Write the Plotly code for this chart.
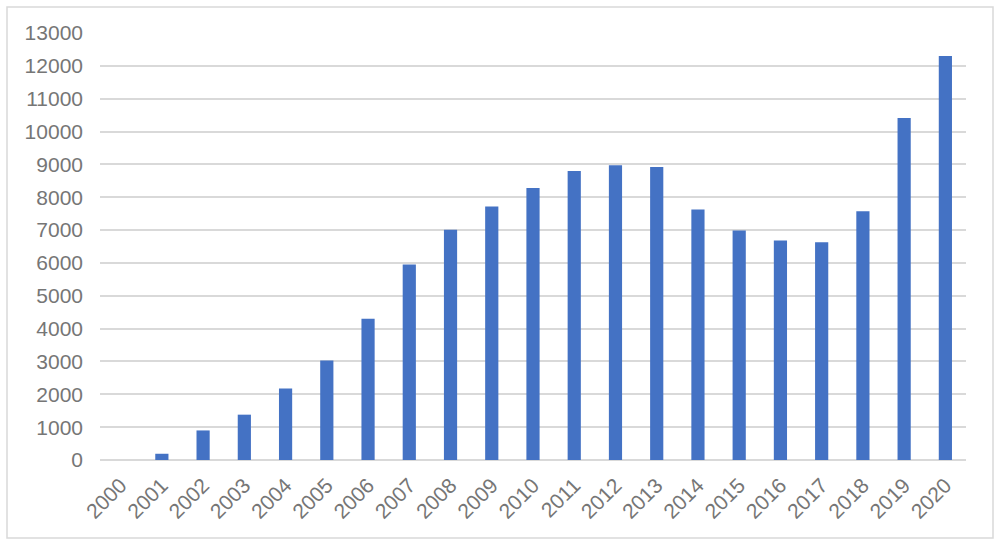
import plotly.graph_objects as go

years = [str(y) for y in range(2000, 2021)]
values = [0, 190, 900, 1380, 2180, 3030, 4300, 5950, 7010, 7720, 8280,
          8800, 8970, 8920, 7630, 6990, 6680, 6630, 7570, 10410, 12300]
y_ticks = list(range(0, 13001, 1000))

fig = go.Figure(go.Bar(
    x=years, y=values,
    marker=dict(color="#4472C4", line=dict(width=0)),
))

L, R, T, B = 100, 34, 33, 83
W, H = 1000, 543
pw, ph = W - L - R, H - T - B

def px_x(p):
    return (p - L) / pw

def px_y(p):
    return (H - B - p) / ph

fig.add_shape(type="rect", xref="paper", yref="paper",
              x0=px_x(7), x1=px_x(993), y0=px_y(538), y1=px_y(7),
              line=dict(color="#d9d9d9", width=1.5), fillcolor="rgba(0,0,0,0)",
              layer="below")

fig.update_layout(
    width=W, height=H,
    margin=dict(l=L, r=R, t=T, b=B),
    paper_bgcolor="white", plot_bgcolor="white",
    bargap=0.68,
    showlegend=False,
    font=dict(family="Liberation Sans, Arial, sans-serif", color="#767676"),
    xaxis=dict(
        type="category", tickangle=-45, tickfont=dict(size=21, color="#767676"),
        showgrid=False, showline=False, ticks="", ticklabelstandoff=8,
    ),
    yaxis=dict(
        range=[0, 13000], tickvals=y_ticks, ticktext=[str(v) for v in y_ticks],
        tickfont=dict(size=21, color="#767676"),
        gridcolor="#d9d9d9", gridwidth=1.5, zeroline=True, zerolinecolor="#d9d9d9",
        zerolinewidth=1.5, showline=False, ticks="", ticklabelstandoff=16,
    ),
)

fig.write_html("out.html", config={"displayModeBar": False},
               post_script="document.body.style.margin='0';document.body.style.overflow='hidden';")
